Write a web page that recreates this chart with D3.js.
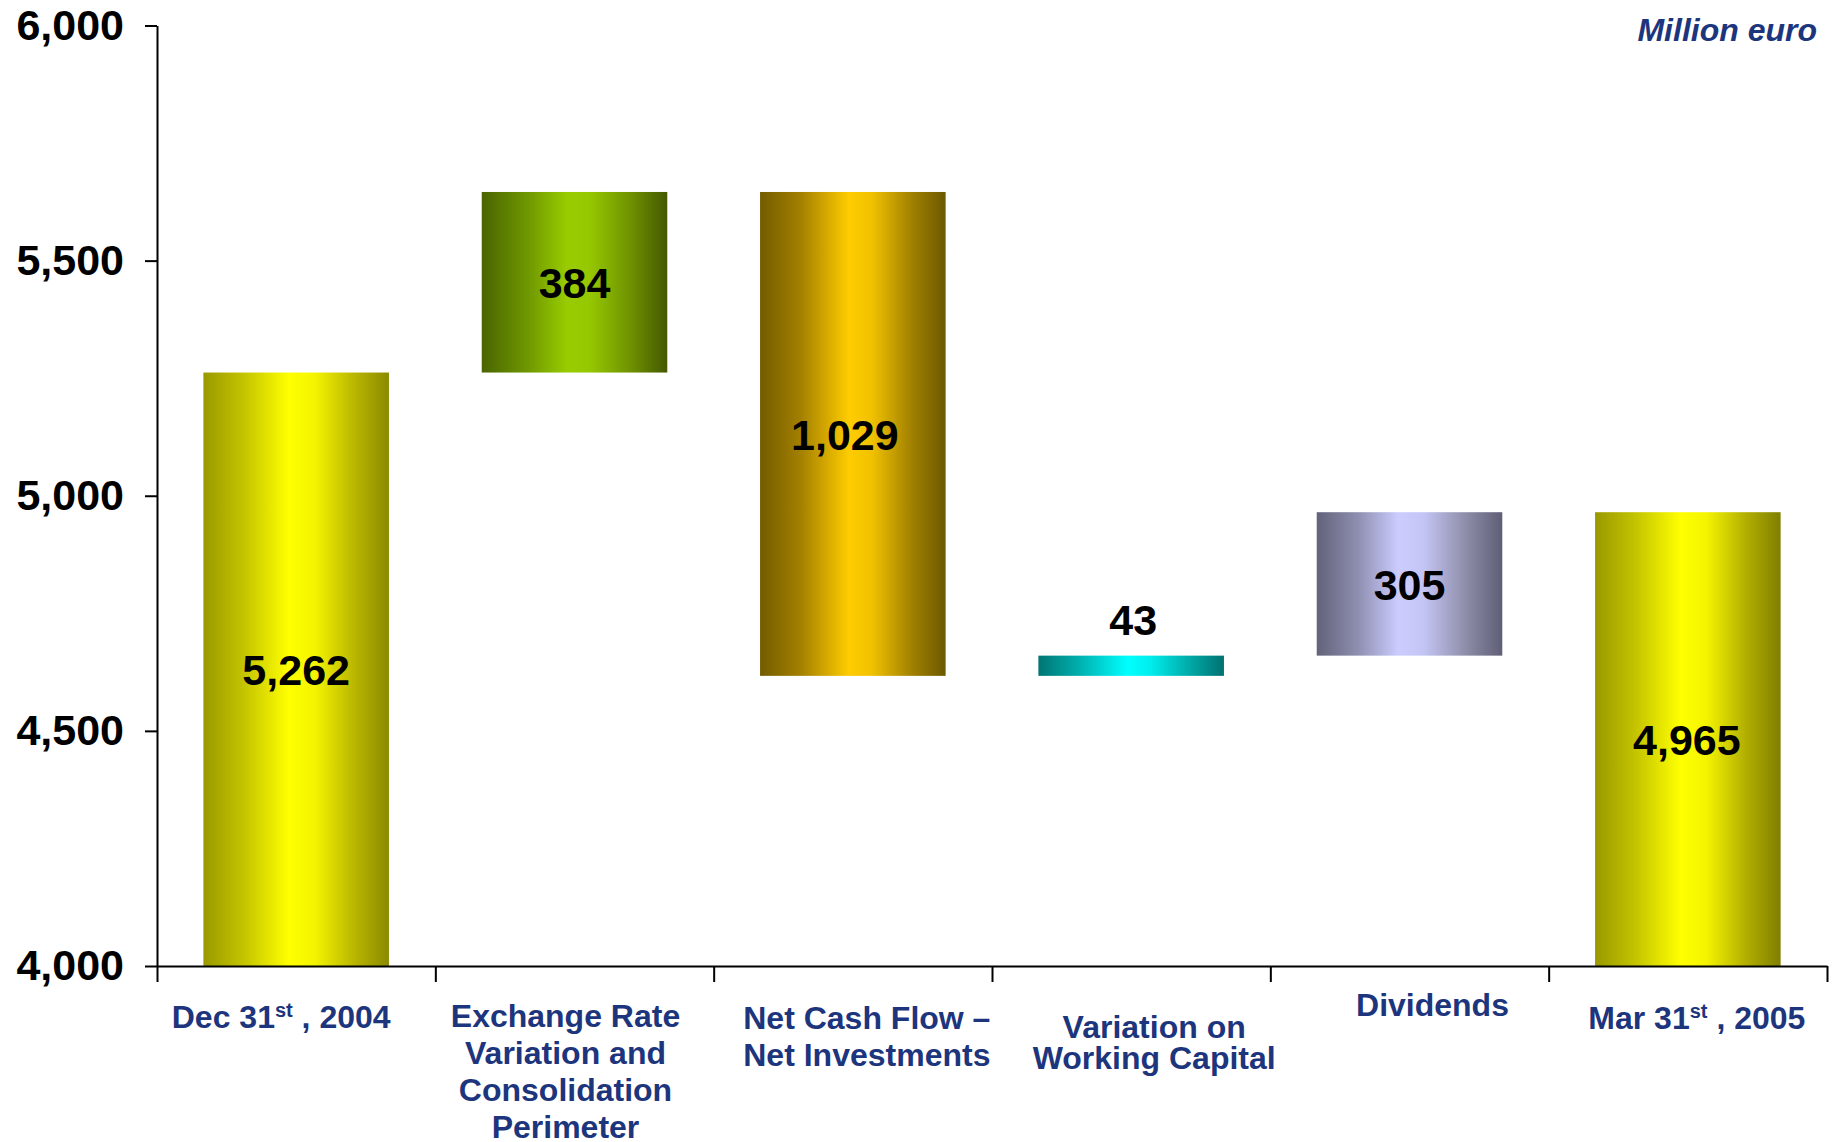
<!DOCTYPE html>
<html>
<head>
<meta charset="utf-8">
<script src="https://cdn.jsdelivr.net/npm/d3@7"></script>
<style>
  html, body { margin: 0; padding: 0; background: #ffffff; }
  svg { display: block; }
  text { font-family: "Liberation Sans", Arial, Helvetica, sans-serif; font-weight: bold; }
</style>
</head>
<body>
<svg id="chart" width="1832" height="1142"></svg>
<script>
// Net debt bridge, Dec 31st 2004 -> Mar 31st 2005 (million euro)
const categories = [
  "Dec 31st , 2004",
  "Exchange Rate Variation and Consolidation Perimeter",
  "Net Cash Flow – Net Investments",
  "Variation on Working Capital",
  "Dividends",
  "Mar 31st , 2005"
];
// Category labels as printed, one entry per line; {..} marks a superscript
const categoryLines = [
  ["Dec 31{st} , 2004"],
  ["Exchange Rate", "Variation and", "Consolidation", "Perimeter"],
  ["Net Cash Flow –", "Net Investments"],
  ["Variation on", "Working Capital"],
  ["Dividends"],
  ["Mar 31{st} , 2005"]
];
// Signed step values; first and last are totals
const values = [5262, 384, -1029, 43, 305, 4965];
const kinds = ["total", "delta", "delta", "delta", "delta", "total"];
const yTicks = [4000, 4500, 5000, 5500, 6000];
const unitLabel = "Million euro";

// Bar fills: horizontal cylinder-like shading
const fills = [
  [["0", "#999900"], ["0.22", "#c4c400"], ["0.46", "#ffff00"], ["0.6", "#f4f400"], ["0.82", "#b8b400"], ["1", "#8a8a00"]],
  [["0", "#4a6400"], ["0.25", "#6f9800"], ["0.46", "#99cc00"], ["0.58", "#96c800"], ["0.8", "#6f9200"], ["1", "#445800"]],
  [["0", "#725c00"], ["0.22", "#a48000"], ["0.48", "#ffcc00"], ["0.6", "#f2c200"], ["0.82", "#a08000"], ["1", "#6c5800"]],
  [["0", "#007573"], ["0.22", "#00b0ae"], ["0.48", "#00ffff"], ["0.6", "#00eeee"], ["0.82", "#00a8a6"], ["1", "#007070"]],
  [["0", "#62627a"], ["0.22", "#8e8eb0"], ["0.44", "#ccccff"], ["0.58", "#c4c4f4"], ["0.8", "#8e8eaa"], ["1", "#5e5e76"]],
  [["0", "#999900"], ["0.22", "#c4c400"], ["0.46", "#ffff00"], ["0.6", "#f4f400"], ["0.82", "#b0ac00"], ["1", "#7f7f00"]]
];

// Label placement tweaks (pixels)
const catLayout = [
  { dx: -15, y: 1028, step: 37 },
  { dx: -9, y: 1027, step: 37 },
  { dx: 14, y: 1029, step: 37 },
  { dx: 23, y: 1038, step: 31 },
  { dx: 23, y: 1016, step: 37 },
  { dx: 9, y: 1029, step: 37 }
];
const valueDx = [0, 0, -8, 2, 0, -1];

const navy = "#1d357c";
const plotLeft = 157, plotRight = 1827, plotTop = 25.5, plotBottom = 966;

const svg = d3.select("#chart");
const defs = svg.append("defs");
fills.forEach((stops, i) => {
  const g = defs.append("linearGradient")
    .attr("id", "fill" + i)
    .attr("x1", "0").attr("x2", "1").attr("y1", "0").attr("y2", "0");
  stops.forEach(([o, c]) => g.append("stop").attr("offset", o).attr("stop-color", c));
});

// Running totals for the waterfall
let running = 0;
const steps = values.map((v, i) => {
  let lo, hi;
  if (kinds[i] === "total") {
    lo = 4000; hi = v; running = v;
  } else {
    const next = running + v;
    lo = Math.min(running, next); hi = Math.max(running, next);
    running = next;
  }
  return { i, cat: categories[i], v, lo, hi };
});

const x = d3.scaleBand()
  .domain(categories)
  .range([plotLeft, plotRight])
  .paddingInner(1 / 3)
  .paddingOuter(1 / 6);
const slot = d3.scaleLinear().domain([0, categories.length]).range([plotLeft, plotRight]);
const y = d3.scaleLinear().domain([4000, 6000]).range([plotBottom, plotTop]);

// Bars
svg.append("g").selectAll("rect")
  .data(steps)
  .join("rect")
  .attr("x", d => x(d.cat))
  .attr("width", x.bandwidth())
  .attr("y", d => y(d.hi))
  .attr("height", d => y(d.lo) - y(d.hi))
  .attr("fill", d => `url(#fill${d.i})`);

// Y axis
const yAxis = svg.append("g")
  .attr("transform", `translate(${plotLeft},0)`)
  .call(d3.axisLeft(y).tickValues(yTicks).tickFormat(d3.format(",")).tickSize(12).tickSizeOuter(0).tickPadding(21));
yAxis.selectAll("path, line").attr("stroke", "#000").attr("stroke-width", 2);
yAxis.selectAll("text")
  .attr("fill", "#000")
  .style("font-size", "43px")
  .style("font-family", "'Liberation Sans', Arial, sans-serif")
  .style("font-weight", "bold");

// X axis with ticks on category boundaries
const xAxis = svg.append("g")
  .attr("transform", `translate(0,${plotBottom})`)
  .call(d3.axisBottom(slot).tickValues(d3.range(categories.length + 1)).tickFormat("").tickSize(16).tickSizeOuter(0));
xAxis.selectAll("path, line").attr("stroke", "#000").attr("stroke-width", 2);

// Category labels
const catG = svg.append("g");
categoryLines.forEach((lines, i) => {
  const cx = x(categories[i]) + x.bandwidth() / 2 + catLayout[i].dx;
  lines.forEach((line, k) => {
    const t = catG.append("text")
      .attr("x", cx)
      .attr("y", catLayout[i].y + k * catLayout[i].step)
      .attr("text-anchor", "middle")
      .attr("fill", navy)
      .style("font-size", "32px");
    const parts = line.split(/(\{[^}]*\})/).filter(s => s.length);
    let pending = 0;
    parts.forEach(p => {
      if (p.startsWith("{")) {
        t.append("tspan").attr("dy", pending - 11).style("font-size", "20px").text(p.slice(1, -1));
        pending = 11;
      } else {
        t.append("tspan").attr("dy", pending).text(p);
        pending = 0;
      }
    });
  });
});

// Value labels
const fmt = d3.format(",");
svg.append("g").selectAll("text")
  .data(steps)
  .join("text")
  .attr("x", d => x(d.cat) + x.bandwidth() / 2 + valueDx[d.i])
  .attr("y", d => {
    const h = y(d.lo) - y(d.hi);
    if (h < 50) return y(d.hi) - 21;
    return (y(d.lo) + y(d.hi)) / 2 + 16;
  })
  .attr("text-anchor", "middle")
  .attr("fill", "#000")
  .style("font-size", "43px")
  .text(d => fmt(Math.abs(d.v)));

// Unit note
svg.append("text")
  .attr("x", 1817)
  .attr("y", 41)
  .attr("text-anchor", "end")
  .attr("fill", navy)
  .style("font-size", "32px")
  .style("font-style", "italic")
  .text(unitLabel);
</script>
</body>
</html>
